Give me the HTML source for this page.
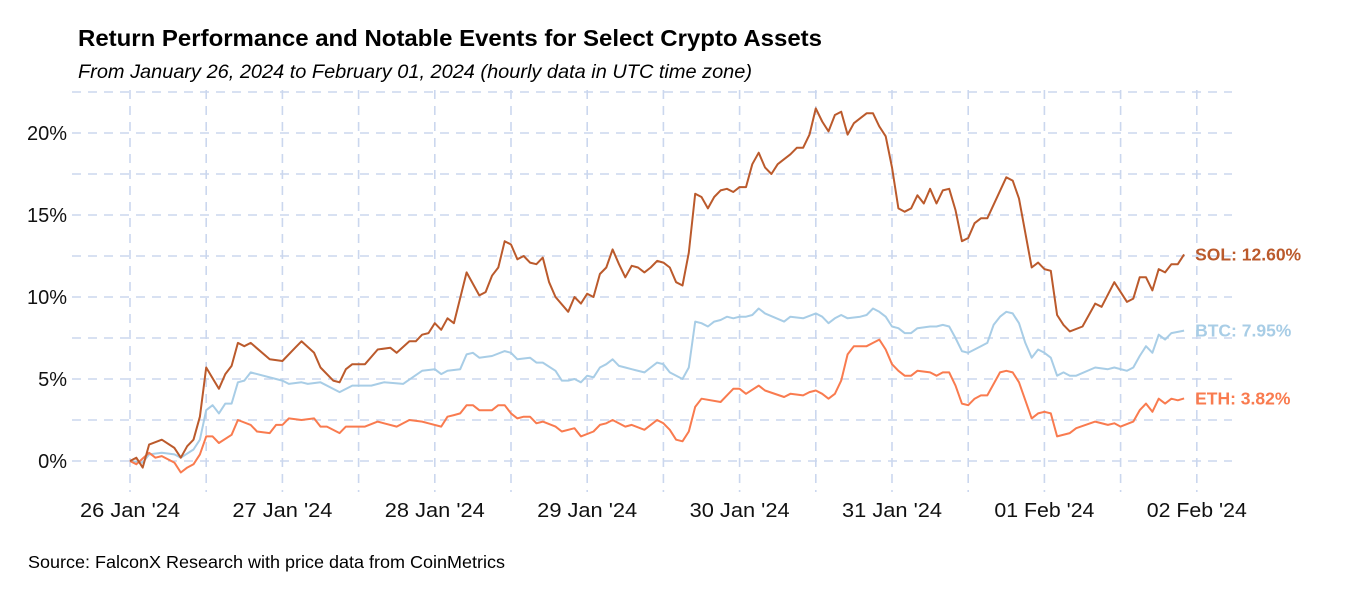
<!DOCTYPE html>
<html><head><meta charset="utf-8"><style>
body{margin:0;background:#fff;width:1350px;height:600px;overflow:hidden;font-family:"Liberation Sans",sans-serif}
</style></head><body>
<svg id="chart" width="1350" height="600" xmlns="http://www.w3.org/2000/svg" font-family="Liberation Sans, sans-serif">
<text x="78" y="46" font-size="23.5" font-weight="bold" fill="#000" textLength="744" lengthAdjust="spacingAndGlyphs">Return Performance and Notable Events for Select Crypto Assets</text>
<text x="78" y="78" font-size="19.5" font-style="italic" fill="#000" textLength="674" lengthAdjust="spacingAndGlyphs">From January 26, 2024 to February 01, 2024 (hourly data in UTC time zone)</text>
<text x="28" y="568" font-size="17.5" fill="#000" textLength="477" lengthAdjust="spacingAndGlyphs">Source: FalconX Research with price data from CoinMetrics</text>
<g id="grid"></g>
<g id="axes"></g>
<g id="series"></g>
</svg>
<script>
const xTickLabels = ["26 Jan '24","27 Jan '24","28 Jan '24","29 Jan '24","30 Jan '24","31 Jan '24","01 Feb '24","02 Feb '24"];
const yTicks = [0,5,10,15,20];
const seriesNames = ["SOL","BTC","ETH"];
const seriesLabels = ["SOL: 12.60%","BTC: 7.95%","ETH: 3.82%"];
const solHours = [0,1,2,3,5,7,8,9,10,11,12,14,15,16,17,18,19,22,24,26,27,29,30,32,33,34,35,37,39,41,42,44,45,46,47,48,49,50,51,53,55,56,57,58,59,60,61,62,63,64,65,66,67,69,70,71,72,73,74,75,76,77,78,79,80,81,82,83,84,85,86,87,88,89,90,91,92,93,94,95,96,97,98,99,100,101,102,103,104,105,106,107,108,109,110,111,112,113,114,115,116,117,118,119,120,121,122,123,124,125,126,127,128,129,130,131,132,133,134,135,138,139,140,142,143,144,145,146,147,148,150,152,153,155,157,158,159,160,161,162,163,164,165,166];
const solValues = [0,0.2,-0.4,1.0,1.3,0.8,0.2,0.9,1.3,2.7,5.7,4.4,5.3,5.8,7.2,7.0,7.2,6.2,6.1,6.9,7.3,6.6,5.7,4.9,4.8,5.6,5.9,5.9,6.8,6.9,6.6,7.3,7.3,7.7,7.8,8.4,8.0,8.7,8.4,11.5,10.1,10.3,11.3,11.8,13.4,13.2,12.3,12.5,12.1,12.0,12.4,10.9,10.0,9.1,10.0,9.6,10.2,10.0,11.4,11.8,12.9,12.0,11.2,11.9,11.8,11.5,11.8,12.2,12.1,11.8,10.9,10.7,12.7,16.3,16.1,15.4,16.1,16.5,16.6,16.4,16.7,16.7,18.1,18.8,17.9,17.5,18.1,18.4,18.7,19.1,19.1,19.9,21.5,20.7,20.1,21.1,21.3,19.9,20.6,20.9,21.2,21.2,20.4,19.8,17.9,15.4,15.2,15.4,16.2,15.7,16.6,15.7,16.5,16.6,15.3,13.4,13.6,14.5,14.8,14.8,17.3,17.1,16.0,11.8,12.1,11.7,11.6,8.9,8.3,7.9,8.2,9.6,9.4,10.9,9.7,9.9,11.2,11.2,10.4,11.7,11.5,12.0,12.0,12.6];
const btcHours = [0,2,3,5,7,8,10,11,12,13,14,15,16,17,18,19,22,24,25,27,28,30,33,35,38,40,43,46,48,49,50,52,53,54,55,57,59,60,61,63,64,65,67,68,69,70,71,72,73,74,75,76,77,78,79,81,82,83,84,85,87,88,89,90,91,92,93,94,95,96,97,98,99,100,103,104,106,108,109,110,111,112,113,115,116,117,118,119,120,121,122,123,124,126,127,128,129,130,131,132,134,135,136,137,138,139,140,141,142,143,144,145,146,147,148,149,152,154,155,157,158,159,160,161,162,163,164,166];
const btcValues = [0,-0.1,0.4,0.5,0.4,0.2,0.7,1.3,3.1,3.4,2.9,3.5,3.5,4.8,4.9,5.4,5.1,4.9,4.7,4.8,4.7,4.8,4.2,4.6,4.6,4.8,4.7,5.5,5.6,5.3,5.5,5.6,6.5,6.6,6.3,6.4,6.7,6.6,6.2,6.3,6.0,6.0,5.5,4.9,4.9,5.0,4.8,5.2,5.1,5.7,5.9,6.2,5.8,5.7,5.6,5.4,5.7,6.0,5.9,5.4,5.0,5.7,8.5,8.4,8.2,8.5,8.6,8.8,8.7,8.8,8.8,8.9,9.3,9.0,8.5,8.8,8.7,9.0,8.8,8.4,8.7,8.9,8.7,8.8,8.9,9.3,9.1,8.8,8.2,8.1,7.8,7.8,8.1,8.2,8.2,8.3,8.2,7.5,6.7,6.6,7.0,7.2,8.3,8.8,9.1,9.0,8.4,7.2,6.3,6.8,6.6,6.3,5.2,5.4,5.2,5.2,5.7,5.6,5.7,5.5,5.7,6.4,7.0,6.6,7.7,7.4,7.8,7.95];
const ethHours = [0,1,3,4,5,7,8,9,10,11,12,13,14,16,17,19,20,22,23,24,25,27,29,30,31,33,34,37,39,40,42,44,46,47,49,50,51,52,53,54,55,57,58,59,60,61,62,63,64,65,67,68,70,71,73,74,75,76,78,79,81,83,84,85,86,87,88,89,90,93,94,95,96,97,99,100,103,104,106,107,108,109,110,111,112,113,114,116,117,118,119,120,121,122,123,124,126,127,128,129,130,131,132,133,134,135,137,138,139,140,142,143,144,145,146,148,149,152,154,155,156,158,159,160,161,162,163,164,165,166];
const ethValues = [0,-0.2,0.5,0.2,0.3,-0.1,-0.7,-0.4,-0.2,0.4,1.5,1.5,1.1,1.6,2.5,2.2,1.8,1.7,2.2,2.2,2.6,2.5,2.6,2.1,2.1,1.7,2.1,2.1,2.4,2.3,2.1,2.5,2.4,2.3,2.1,2.7,2.8,2.9,3.4,3.4,3.1,3.1,3.4,3.4,2.9,2.6,2.7,2.7,2.3,2.4,2.1,1.8,2.0,1.5,1.8,2.2,2.3,2.5,2.1,2.2,1.9,2.5,2.3,1.9,1.3,1.2,1.8,3.3,3.8,3.6,4.0,4.4,4.4,4.1,4.6,4.3,3.9,4.1,4.0,4.2,4.3,4.1,3.8,4.1,4.9,6.5,7.0,7.0,7.2,7.4,6.8,5.9,5.5,5.2,5.2,5.5,5.4,5.2,5.4,5.4,4.6,3.5,3.4,3.8,4.0,4.0,5.4,5.5,5.4,4.8,2.6,2.9,3.0,2.9,1.5,1.7,2.0,2.4,2.2,2.3,2.1,2.4,3.1,3.5,3.0,3.8,3.5,3.8,3.7,3.82];

const X0=130, PX_PER_HOUR=152.4/24, Y0=461, PX_PER_PCT=16.4;
const xScale = h => X0 + h*PX_PER_HOUR;
const yScale = v => Y0 - v*PX_PER_PCT;
const NS="http://www.w3.org/2000/svg";
function mk(tag, attrs, parent){const e=document.createElementNS(NS,tag);for(const k in attrs)e.setAttribute(k,attrs[k]);parent.appendChild(e);return e;}
const grid=document.getElementById('grid'), axes=document.getElementById('axes'), ser=document.getElementById('series');
const GX1=72, GX2=1232, GY1=90, GY2=492;
for(let v=0; v<=22.5; v+=2.5){
  const l=mk('line',{x1:GX1,x2:GX2,y1:yScale(v),y2:yScale(v),stroke:'#cbd7ee','stroke-width':1.6,'stroke-dasharray':'9 7'},grid);
  
  
}
for(let d=-0.5; d<=7.2; d+=0.5){
  const x=xScale(d*24); if(x<GX1||x>GX2) continue;
  const l=mk('line',{x1:x,x2:x,y1:GY1,y2:GY2,stroke:'#cbd7ee','stroke-width':1.6,'stroke-dasharray':'9 7'},grid);
  
  
}
yTicks.forEach(v=>{
  const t=mk('text',{x:67,y:yScale(v)+7,'text-anchor':'end','font-size':20,fill:'#111'},axes);
  t.textContent=v+'%';
  
  
});
xTickLabels.forEach((s,i)=>{
  const t=mk('text',{x:xScale(i*24),y:517,'text-anchor':'middle','font-size':20,fill:'#111',textLength:100,lengthAdjust:'spacingAndGlyphs'},axes);
  t.textContent=s;
  
  
});
const colors=['#bb5a2c','#a8cde6','#f97b4f'];
const allH=[solHours,btcHours,ethHours], allV=[solValues,btcValues,ethValues];
[1,2,0].forEach(i=>{
  const H=allH[i],V=allV[i];
  const d=H.map((h,k)=>(k?'L':'M')+xScale(h).toFixed(1)+' '+yScale(V[k]).toFixed(1)).join(' ');
  const p=mk('path',{d:d,fill:'none',stroke:colors[i],'stroke-width':2,'stroke-linejoin':'round'},ser);
  
  
  const lx=xScale(H[H.length-1])+11, ly=yScale(V[V.length-1])+6;
  const t=mk('text',{x:lx,y:ly,'font-size':17.5,'font-weight':'bold',fill:colors[i]},ser);
  t.textContent=seriesLabels[i];
  
  
});
</script>
</body></html>
